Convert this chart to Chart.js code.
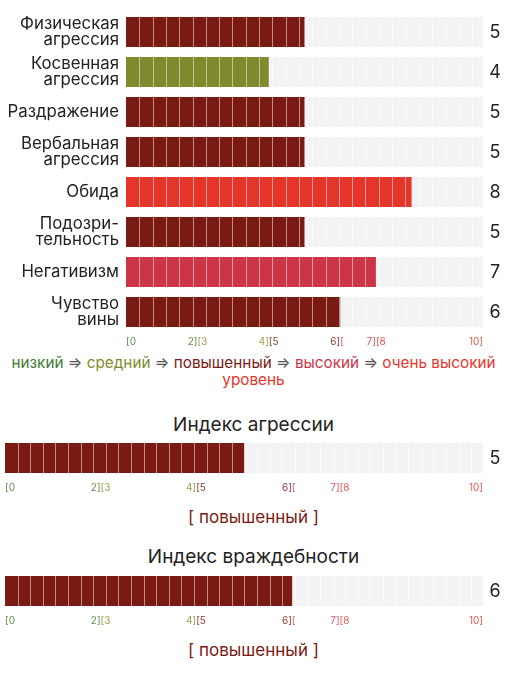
<!DOCTYPE html>
<html><head><meta charset="utf-8">
<script src="https://cdn.jsdelivr.net/npm/chart.js@4/dist/chart.umd.min.js"></script>
<style>
html,body{margin:0;padding:0;background:#fff;width:507px;height:680px;overflow:hidden;font-family:Inter,"Noto Sans",sans-serif;}
.box{position:absolute;left:0;width:507px;}
.txt{position:absolute;left:0;width:507px;text-align:center;color:#222;}
</style></head>
<body>
<div class="box" style="top:0;height:352px"><canvas id="c1"></canvas></div>
<div class="txt" id="legend" style="top:354px;font-size:15.3px;line-height:17px"></div>
<div class="txt" id="t2" style="top:413px;font-size:19px;line-height:24px"></div>
<div class="box" style="top:438px;height:60px"><canvas id="c2"></canvas></div>
<div class="txt" id="l2" style="top:506px;font-size:17px;line-height:22px"></div>
<div class="txt" id="t3" style="top:545px;font-size:19px;line-height:24px"></div>
<div class="box" style="top:571px;height:60px"><canvas id="c3"></canvas></div>
<div class="txt" id="l3" style="top:639px;font-size:17px;line-height:22px"></div>
<script>
const categories = [['Физическая','агрессия'],['Косвенная','агрессия'],'Раздражение',['Вербальная','агрессия'],'Обида',['Подозри-','тельность'],'Негативизм',['Чувство','вины']];
const scaleValues = [5,4,5,5,8,5,7,6];
const scaleMax = 10;
const levelNames = ['низкий','средний','повышенный','высокий','очень высокий'];
const levelColors = ['#3e7b30','#7f8a2c','#7b1a12','#cc3447','#e5352b'];
const tickColors = ['#5f8f52','#9da04f','#8a3a33','#d35a69','#e05a50'];
const levelBounds = [0,2,4,6,7,10];
const leftTickLabels = ['','2]','4]','6]','7]','10]'];
const rightTickLabels = ['[0','[3','[5','[','[8',''];
const indexTitles = ['Индекс агрессии','Индекс враждебности'];
const indexValues = [5,6];

const FONT = 'Inter, "Noto Sans", sans-serif';
function levelOf(v){
  for(let i=0;i<levelNames.length;i++){ if(v<=levelBounds[i+1]) return i; }
  return levelNames.length-1;
}

const decor = {
  id:'decor',
  afterDatasetsDraw(chart){
    const o = chart.options.plugins.decor;
    const ctx = chart.ctx, xs = chart.scales.x;
    const meta = chart.getDatasetMeta(0);
    const left = xs.getPixelForValue(0), right = xs.getPixelForValue(scaleMax);
    ctx.save();
    ctx.strokeStyle = 'rgba(255,255,255,0.5)';
    ctx.lineWidth = 1;
    meta.data.forEach((el,i)=>{
      const h = el.height, y = el.y;
      ctx.beginPath();
      for(let x=left+o.seg; x<right-2; x+=o.seg){
        const px = Math.round(x)+0.5;
        ctx.moveTo(px,y-h/2); ctx.lineTo(px,y+h/2);
      }
      ctx.stroke();
      ctx.fillStyle = '#222';
      ctx.font = '18px '+FONT;
      ctx.textAlign = 'center';
      ctx.textBaseline = 'middle';
      ctx.fillText(String(o.values[i]), right+12, y+1);
    });
    const last = meta.data[meta.data.length-1];
    const ty = last.y + last.height/2 + 15;
    ctx.font = '10px '+FONT;
    ctx.textBaseline = 'middle';
    levelBounds.forEach((b,k)=>{
      const x = xs.getPixelForValue(b);
      if(leftTickLabels[k]){ ctx.textAlign='right'; ctx.fillStyle=tickColors[Math.max(0,k-1)]; ctx.fillText(leftTickLabels[k], x, ty); }
      if(rightTickLabels[k]){ ctx.textAlign='left'; ctx.fillStyle=tickColors[Math.min(levelNames.length-1,k)]; ctx.fillText(rightTickLabels[k], x, ty); }
    });
    ctx.restore();
  }
};

function makeChart(id, labels, values, opts){
  return new Chart(document.getElementById(id), {
    type:'bar',
    data:{
      labels: labels,
      datasets:[
        {data: values, backgroundColor: values.map(v=>levelColors[levelOf(v)]), borderWidth:0, categoryPercentage: opts.cat, barPercentage:1},
        {data: values.map(v=>scaleMax-v), backgroundColor:'#f3f3f3', borderWidth:0, categoryPercentage: opts.cat, barPercentage:1}
      ]
    },
    options:{
      indexAxis:'y', responsive:true, maintainAspectRatio:false, animation:false,
      layout:{padding:opts.pad},
      plugins:{legend:{display:false}, tooltip:{enabled:false}, decor:{seg:opts.seg, values:values}},
      scales:{
        x:{stacked:true, min:0, max:scaleMax, display:false},
        y:{stacked:true, display:opts.showY, grid:{display:false, drawTicks:false}, border:{display:false},
           ticks:{color:'#222', padding:7, font:{family:FONT, size:16.8, lineHeight:1.0}},
           afterFit(s){ if(opts.showY){ s.width = 126; s.paddingTop = 0; s.paddingBottom = 0; } }}
      }
    },
    plugins:[decor]
  });
}

makeChart('c1', categories, scaleValues, {cat:0.75, pad:{top:12,right:24,bottom:20,left:0}, seg:13.3, showY:true});
makeChart('c2', [indexTitles[0]], [indexValues[0]], {cat:1, pad:{top:5,right:24,bottom:25,left:5}, seg:12.6, showY:false});
makeChart('c3', [indexTitles[1]], [indexValues[1]], {cat:1, pad:{top:5,right:24,bottom:25,left:5}, seg:12.6, showY:false});

const arrow = ' <span style="color:#555">⇒</span> ';
document.getElementById('legend').innerHTML = levelNames.map((n,i)=>'<span style="color:'+levelColors[i]+'">'+n+(i===levelNames.length-1?'<br>уровень':'')+'</span>').join(arrow);
document.getElementById('t2').textContent = indexTitles[0];
document.getElementById('t3').textContent = indexTitles[1];
[['l2',indexValues[0]],['l3',indexValues[1]]].forEach(([id,v])=>{
  const el = document.getElementById(id);
  el.textContent = '[ ' + levelNames[levelOf(v)] + ' ]';
  el.style.color = levelColors[levelOf(v)];
});
</script>
</body></html>
